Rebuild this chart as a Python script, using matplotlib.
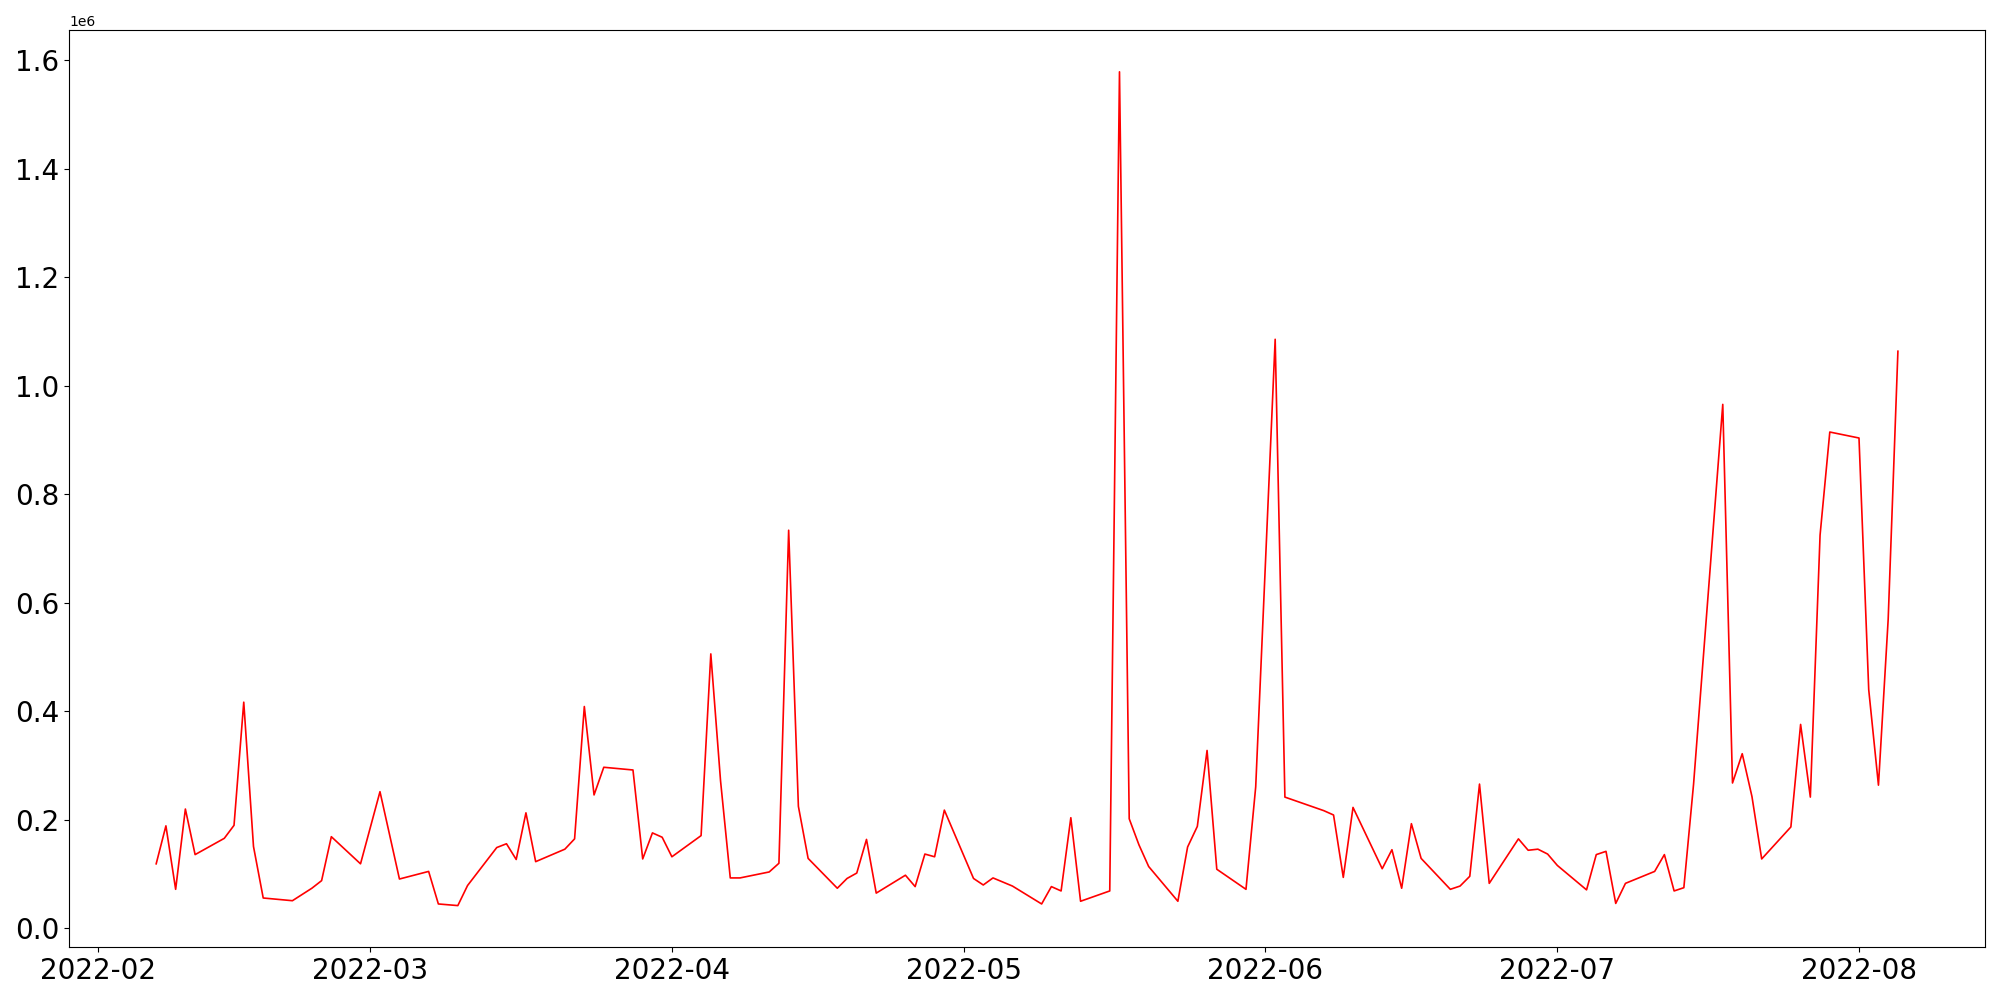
import matplotlib
matplotlib.use("Agg")
import matplotlib.pyplot as plt
import pandas as pd

dates = [
    "2022-02-07", "2022-02-08", "2022-02-09", "2022-02-10", "2022-02-11",
    "2022-02-14", "2022-02-15", "2022-02-16", "2022-02-17", "2022-02-18",
    "2022-02-21", "2022-02-23", "2022-02-24", "2022-02-25", "2022-02-28",
    "2022-03-02", "2022-03-04", "2022-03-07", "2022-03-08", "2022-03-10",
    "2022-03-11", "2022-03-14", "2022-03-15", "2022-03-16", "2022-03-17",
    "2022-03-18", "2022-03-21", "2022-03-22", "2022-03-23", "2022-03-24",
    "2022-03-25", "2022-03-28", "2022-03-29", "2022-03-30", "2022-03-31",
    "2022-04-01", "2022-04-04", "2022-04-05", "2022-04-06", "2022-04-07",
    "2022-04-08", "2022-04-11", "2022-04-12", "2022-04-13", "2022-04-14",
    "2022-04-15", "2022-04-18", "2022-04-19", "2022-04-20", "2022-04-21",
    "2022-04-22", "2022-04-25", "2022-04-26", "2022-04-27", "2022-04-28",
    "2022-04-29", "2022-05-02", "2022-05-03", "2022-05-04", "2022-05-06",
    "2022-05-09", "2022-05-10", "2022-05-11", "2022-05-12", "2022-05-13",
    "2022-05-16", "2022-05-17", "2022-05-18", "2022-05-19", "2022-05-20",
    "2022-05-23", "2022-05-24", "2022-05-25", "2022-05-26", "2022-05-27",
    "2022-05-30", "2022-05-31", "2022-06-02", "2022-06-03", "2022-06-07",
    "2022-06-08", "2022-06-09", "2022-06-10", "2022-06-13", "2022-06-14",
    "2022-06-15", "2022-06-16", "2022-06-17", "2022-06-20", "2022-06-21",
    "2022-06-22", "2022-06-23", "2022-06-24", "2022-06-27", "2022-06-28",
    "2022-06-29", "2022-06-30", "2022-07-01", "2022-07-04", "2022-07-05",
    "2022-07-06", "2022-07-07", "2022-07-08", "2022-07-11", "2022-07-12",
    "2022-07-13", "2022-07-14", "2022-07-15", "2022-07-18", "2022-07-19",
    "2022-07-20", "2022-07-21", "2022-07-22", "2022-07-25", "2022-07-26",
    "2022-07-27", "2022-07-28", "2022-07-29", "2022-08-01", "2022-08-02",
    "2022-08-03", "2022-08-04", "2022-08-05",
]

values = [
    119000, 189000, 72000, 220000, 136000,
    166000, 190000, 417000, 151000, 56000,
    51000, 74000, 88000, 169000, 119000,
    252000, 91000, 105000, 45000, 42000,
    79000, 149000, 156000, 127000, 213000,
    123000, 146000, 165000, 409000, 246000,
    297000, 292000, 128000, 176000, 168000,
    132000, 171000, 506000, 272000, 93000,
    93000, 104000, 120000, 734000, 225000,
    129000, 74000, 92000, 102000, 164000,
    65000, 98000, 77000, 137000, 132000,
    218000, 92000, 80000, 93000, 78000,
    45000, 77000, 69000, 204000, 50000,
    69000, 1579000, 202000, 154000, 114000,
    50000, 150000, 188000, 328000, 109000,
    72000, 261000, 1086000, 242000, 217000,
    209000, 94000, 223000, 110000, 145000,
    74000, 193000, 129000, 72000, 78000,
    96000, 266000, 83000, 165000, 144000,
    146000, 137000, 116000, 71000, 136000,
    142000, 46000, 83000, 105000, 136000,
    69000, 75000, 266000, 966000, 268000,
    322000, 243000, 128000, 187000, 376000,
    242000, 725000, 915000, 904000, 440000,
    264000, 570000, 1064000,
]

x = pd.to_datetime(dates)

fig, ax = plt.subplots(figsize=(20, 10), dpi=100)
ax.plot(x, values, color="red", linewidth=1.2)
ax.tick_params(axis="both", labelsize=20)
fig.tight_layout()
fig.savefig("out.png", dpi=100)
